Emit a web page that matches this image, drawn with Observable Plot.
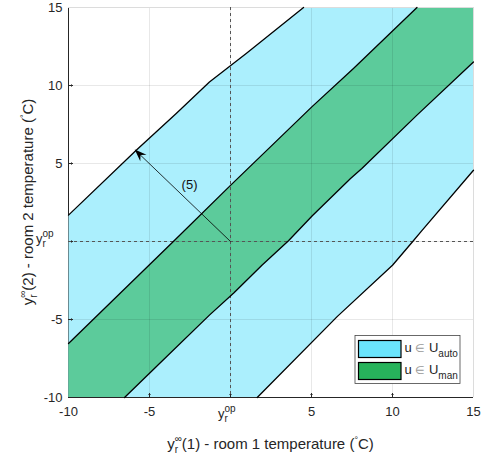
<!DOCTYPE html>
<html><head><meta charset="utf-8">
<script src="https://cdn.jsdelivr.net/npm/d3@7"></script>
<script src="https://cdn.jsdelivr.net/npm/@observablehq/plot@0.6"></script>
<style>body{margin:0;background:#fff}</style>
</head><body><div id="chart"></div>
<script>
const xDomain = [-10, 15];
const yDomain = [-10, 15];
const xTicks = [-10, -5, 0, 5, 10, 15];
const yTicks = [-10, -5, 0, 5, 10, 15];
const opTick = 0;
const opLabel = {base: "y", sub: "r", sup: "op"};

// boundary polylines [x, y]
const autoUpper = [[-10,1.69],[-5.82,5.85],[-3.35,8.21],[-1.30,10.23],[0.97,12.05],[4.51,15]];
const manUpper  = [[-10,-6.54],[-3.56,-0.03],[0,3.6],[5.02,8.63],[7.59,11.09],[11.51,15]];
const manLower  = [[-6.54,-10],[-4.38,-7.82],[-1.30,-4.72],[0.2,-3.3],[1.94,-1.52],[3.58,0.05],[5.05,1.65],[7.41,4.04],[8.11,4.68],[11.51,8.10],[15,11.51]];
const autoLower = [[1.65,-10],[6.6,-4.8],[10.0,-1.52],[11.25,0.0],[11.8,0.68],[15,4.57]];

const arrowFrom = [0, 0];
const arrowTo = [-5.88, 5.86];
const arrowLabel = [{x: -2.53, y: 3.65, text: "(5)"}];

const legendItems = [{sub: "auto", color: "#6ae4fc"}, {sub: "man", color: "#27b35b"}];
const bandColors = {auto: "#abeffd", man: "#5ccb9b"};
const xTitle = {idx: "(1)", room: " - room 1 temperature ("};
const yTitle = {idx: "(2)", room: " - room 2 temperature ("};

const autoPoly = [...autoUpper, [xDomain[1], yDomain[1]], ...autoLower.slice().reverse(), [xDomain[0], yDomain[0]]];
const manPoly = [...manUpper, [xDomain[1], yDomain[1]], ...manLower.slice().reverse(), [xDomain[0], yDomain[0]]];

const X = d => d[0], Y = d => d[1];
const dark = "#262626";

const plot = Plot.plot({
  width: 485, height: 462,
  marginLeft: 68, marginRight: 12, marginTop: 7, marginBottom: 65,
  x: {domain: xDomain, ticks: xTicks, tickFormat: d => d === opTick ? "" : d, tickSize: 0, tickPadding: 9.5, label: null},
  y: {domain: yDomain, ticks: yTicks, tickFormat: d => d === opTick ? "" : d, tickSize: 0, tickPadding: 6, label: null},
  style: {fontFamily: "'Liberation Sans', Arial, sans-serif", fontSize: "13px", color: dark, background: "white"},
  marks: [
    Plot.ruleX([xDomain[0]], {stroke: dark, strokeWidth: 1}),
    Plot.line(autoPoly, {x: X, y: Y, fill: bandColors.auto, stroke: "none"}),
    Plot.line(manPoly, {x: X, y: Y, fill: bandColors.man, stroke: "none"}),
    Plot.gridX(xTicks.slice(1, -1), {stroke: "#000", strokeOpacity: 0.09, strokeWidth: 1}),
    Plot.gridY(yTicks.slice(1, -1), {stroke: "#000", strokeOpacity: 0.09, strokeWidth: 1}),
    Plot.ruleY([yDomain[1]], {stroke: "#dcdcdc"}),
    Plot.ruleX([xDomain[1]], {stroke: "#dcdcdc"}),
    Plot.ruleY([yDomain[0]], {stroke: dark, strokeWidth: 1}),
    Plot.vector(xTicks.slice(1, -1), {x: d => d, y: yDomain[0], length: 4, rotate: 0, anchor: "start", stroke: dark, strokeWidth: 1}),
    Plot.vector(yTicks.slice(1, -1), {x: xDomain[0], y: d => d, length: 4, rotate: 90, anchor: "start", stroke: dark, strokeWidth: 1}),
    Plot.ruleX([opTick], {stroke: "#555", strokeDasharray: "3,3", strokeWidth: 1}),
    Plot.ruleY([opTick], {stroke: "#555", strokeDasharray: "3,3", strokeWidth: 1}),
    Plot.line(autoUpper, {x: X, y: Y, stroke: "#000", strokeWidth: 1.3}),
    Plot.line(manUpper, {x: X, y: Y, stroke: "#000", strokeWidth: 1.3}),
    Plot.line(manLower, {x: X, y: Y, stroke: "#000", strokeWidth: 1.3}),
    Plot.line(autoLower, {x: X, y: Y, stroke: "#000", strokeWidth: 1.3}),
    Plot.link([{a: arrowFrom, b: arrowTo}], {x1: d => d.a[0], y1: d => d.a[1], x2: d => d.b[0], y2: d => d.b[1], stroke: "#000", strokeWidth: 0.8}),
    Plot.text(arrowLabel, {x: "x", y: "y", text: "text", fontSize: 13, fill: "#111"})
  ]
});
document.getElementById("chart").append(plot);

const svg = d3.select(plot);
const sx = v => plot.scale("x").apply(v);
const sy = v => plot.scale("y").apply(v);
const font = "'Liberation Sans', Arial, sans-serif";

// filled arrowhead
{
  const x0 = sx(arrowFrom[0]), y0 = sy(arrowFrom[1]);
  const x1 = sx(arrowTo[0]), y1 = sy(arrowTo[1]);
  const L = Math.hypot(x1 - x0, y1 - y0);
  const ux = (x1 - x0) / L, uy = (y1 - y0) / L;
  const px = -uy, py = ux;
  const len = 12, half = 4.5, notch = 8;
  const p = [
    [x1, y1],
    [x1 - ux * len + px * half, y1 - uy * len + py * half],
    [x1 - ux * notch, y1 - uy * notch],
    [x1 - ux * len - px * half, y1 - uy * len - py * half]
  ];
  svg.append("path").attr("d", "M" + p.map(q => q.join(",")).join("L") + "Z").attr("fill", "#000");
}

// y_r^op tick labels
function opText(sel) {
  sel.append("tspan").text(opLabel.base);
  sel.append("tspan").attr("font-size", 10).attr("dy", 4).text(opLabel.sub);
  sel.append("tspan").attr("font-size", 10).attr("dx", -3.3).attr("dy", -10).text(opLabel.sup);
}
opText(svg.append("text").attr("x", sx(opTick) - 12).attr("y", sy(yDomain[0]) + 21).attr("text-anchor", "start")
  .attr("font-family", font).attr("font-size", 13).attr("fill", dark));
opText(svg.append("text").attr("x", sx(xDomain[0]) - 32).attr("y", sy(opTick) + 2).attr("text-anchor", "start")
  .attr("font-family", font).attr("font-size", 13).attr("fill", dark));

// axis titles
function title(sel, t) {
  sel.append("tspan").text("y");
  sel.append("tspan").attr("font-size", 10).attr("dy", 4).text("r");
  sel.append("tspan").attr("font-size", 10).attr("dx", -3.3).attr("dy", -11).text("\u221E");
  sel.append("tspan").attr("dy", 7).text(t.idx + t.room);
  sel.append("tspan").attr("font-size", 9).attr("dy", -6).text("\u00B0");
  sel.append("tspan").attr("dy", 6).text("C)");
}
const cx = (sx(xDomain[0]) + sx(xDomain[1])) / 2;
const cy = (sy(yDomain[0]) + sy(yDomain[1])) / 2;
title(svg.append("text").attr("x", cx).attr("y", 449).attr("text-anchor", "middle")
  .attr("font-family", font).attr("font-size", 15).attr("fill", dark), xTitle);
title(svg.append("text").attr("transform", `translate(33,${cy}) rotate(-90)`).attr("text-anchor", "middle")
  .attr("font-family", font).attr("font-size", 15).attr("fill", dark), yTitle);

// legend
{
  const g = svg.append("g").attr("font-family", font).attr("text-anchor", "start");
  g.append("rect").attr("x", 355).attr("y", 335.5).attr("width", 105).attr("height", 48)
    .attr("fill", "#fff").attr("stroke", "#444").attr("stroke-width", 0.8);
  legendItems.forEach((it, i) => {
    const y = 340.5 + i * 22;
    g.append("rect").attr("x", 358.5).attr("y", y).attr("width", 42.5).attr("height", 17)
      .attr("fill", it.color).attr("stroke", "#000").attr("stroke-width", 1.2);
    const t = g.append("text").attr("x", 404.5).attr("y", y + 11.5).attr("font-size", 13).attr("fill", dark).attr("text-anchor", "start");
    t.append("tspan").text("u ");
    t.append("tspan").attr("font-size", 11).attr("fill", "#999").text("\u2208");
    t.append("tspan").text(" U");
    t.append("tspan").attr("font-size", 10).attr("dy", 4.5).text(it.sub);
  });
}
</script>
</body></html>
